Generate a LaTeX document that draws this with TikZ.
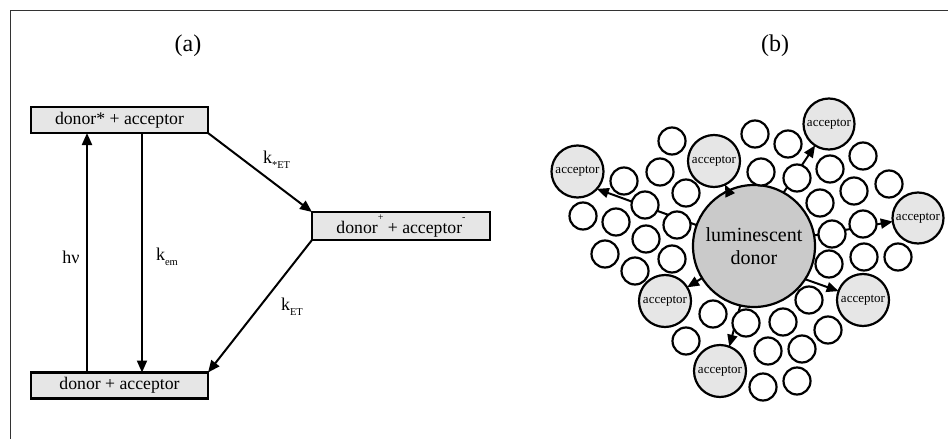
\documentclass[tikz,border=0pt]{standalone}
\usepackage{fontspec}
\setmainfont{Liberation Serif}
\usetikzlibrary{arrows.meta}
\definecolor{boxgray}{HTML}{E6E6E6}
\definecolor{donorgray}{HTML}{CACACA}
\begin{document}
\begin{tikzpicture}[x=1pt,y=-1pt,
  every node/.style={inner sep=0pt,outer sep=0pt},
  statebox/.style={draw=black,line width=2.3pt,fill=boxgray,minimum width=177pt,minimum height=26pt,font=\fontsize{17.7}{20}\selectfont},
  arr/.style={line width=2pt,-{Triangle[length=12pt,width=10pt]}},
  lab/.style={font=\fontsize{18}{20}\selectfont},
  sc/.style={circle,draw=black,line width=2.2pt,fill=white,minimum size=27pt},
  acc/.style={circle,draw=black,line width=2.2pt,fill=boxgray,minimum size=52pt,font=\fontsize{13}{15}\selectfont},
  title/.style={font=\fontsize{24}{26}\selectfont}]
\useasboundingbox (0,0) rectangle (948,439);
\draw[line width=0.9pt,black!80] (10,439) -- (10,10) -- (948,10);
% ---------- panel (a)
\node[title] (ta) at (188,46) {(a)};
\node[title] (tb) at (775,46) {(b)};
\node[statebox] (b1) at (119.5,120) {donor* + acceptor};
\node[statebox] (b3) at (119.5,385.5) {donor + acceptor};
\node[statebox,minimum width=178pt,minimum height=28pt] (b2) at (401,226)
  {donor\raisebox{0.72em}{\fontsize{10}{10}\selectfont +} + acceptor\raisebox{0.72em}{\fontsize{10}{10}\selectfont -}};
\coordinate (hx) at (87,0);
\coordinate (kx) at (142,0);
\draw[arr] (b3.north -| hx) -- (b1.south -| hx);
\draw[arr] (b1.south -| kx) -- (b3.north -| kx);
\draw[arr] (b1.south east) -- (b2.north west);
\draw[arr] (b2.south west) -- (b3.north east);
\node[lab] (lhv) at (71,257) {hν};
\node[lab,anchor=west] (lkem) at (156,257) {k\raisebox{-0.3em}{\fontsize{10.5}{12}\selectfont em}};
\node[lab,anchor=west] (lket1) at (263,160) {k\raisebox{-0.3em}{\fontsize{10.5}{12}\selectfont *ET}};
\node[lab,anchor=west] (lket2) at (281,307) {k\raisebox{-0.3em}{\fontsize{10.5}{12}\selectfont ET}};
% ---------- panel (b)
\node[circle,draw=black,line width=2.2pt,fill=donorgray,minimum size=122pt,align=center,
  font=\fontsize{20}{23.5}\selectfont] (big) at (754,246) {luminescent\\donor};
\node[acc] (a1) at (577.5,171.5) {acceptor};
\node[acc] (a2) at (714,161) {acceptor};
\node[acc,minimum size=51pt] (a3) at (829,124) {acceptor};
\node[acc,minimum size=51pt] (a4) at (918,218) {acceptor};
\node[acc] (a5) at (863,300) {acceptor};
\node[acc] (a6) at (665,301) {acceptor};
\node[acc] (a7) at (720,371) {acceptor};
\draw[arr] (big.160) -- (a1.318);
\draw[arr] (big) -- (a2);
\draw[arr] (big.61) -- (a3.237);
\draw[arr] (big.10) -- (a4.188);
\draw[arr] (big.-33) -- (a5.160);
\draw[arr] (big) -- (a6);
\draw[arr] (big.257) -- (a7.69);
\foreach \p [count=\i] in {(672,141),(624,181),(660,172),(686,193),(645,205),(583,216),(616,222),
  (677,225),(646,239),(605,254),(635,271),(672,259),(686,341),
  (755,134),(788,144),(761,172),(797,178),(863,156),(830,169),(854,191),(889,184),(820,203),
  (832,234),(863,224),(829,264),(864,257),(898,257),(809,300),(828,330),
  (713,314),(746,323),(783,322),(768,351),(802,349),(763,387),(797,381)}
  \node[sc] (s\i) at \p {};
\end{tikzpicture}
\end{document}
